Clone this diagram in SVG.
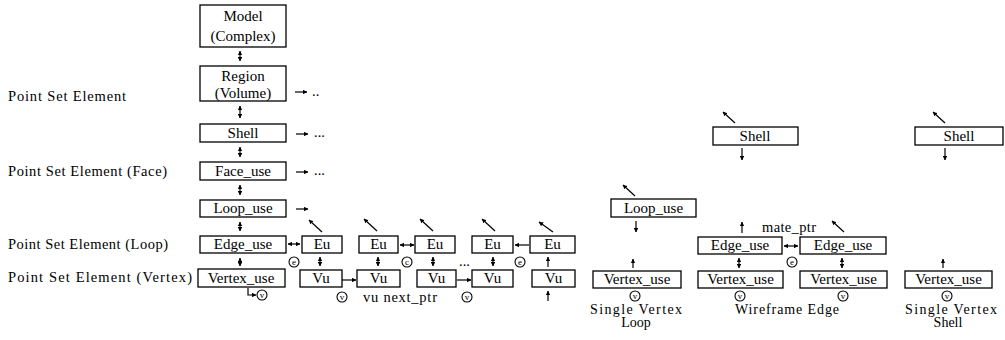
<svg xmlns="http://www.w3.org/2000/svg" width="1005" height="340" viewBox="0 0 1005 340">
<defs>
<marker id="h" viewBox="0 0 6 6" refX="5.5" refY="3" markerWidth="4.5" markerHeight="4.5" markerUnits="userSpaceOnUse" orient="auto-start-reverse"><path d="M0,0 L6,3 L0,6 z" fill="#000"/></marker>
<style>
.b{fill:#fff;stroke:#000;stroke-width:1.3}
.t{font-family:"Liberation Serif","DejaVu Serif",serif;font-size:15px;fill:#000;text-anchor:middle}
.s{font-family:"Liberation Serif","DejaVu Serif",serif;font-size:14px;fill:#000;text-anchor:middle}
.l{font-family:"Liberation Serif","DejaVu Serif",serif;font-size:14.5px;fill:#000}
.c{fill:none;stroke:#000;stroke-width:1.1}
.ct{font-family:"Liberation Serif","DejaVu Serif",serif;font-size:9px;fill:#000;text-anchor:middle}
.a{stroke:#000;stroke-width:1.2;fill:none}
.ae{marker-end:url(#h)}
.ad{marker-start:url(#h);marker-end:url(#h)}
</style>
</defs>
<rect width="1005" height="340" fill="#fff"/>
<g id="labels">
<text class="l" x="8" y="101" textLength="118" lengthAdjust="spacing">Point Set Element</text>
<text class="l" x="8" y="176" textLength="159" lengthAdjust="spacing">Point Set Element (Face)</text>
<text class="l" x="8" y="249" textLength="160" lengthAdjust="spacing">Point Set Element (Loop)</text>
<text class="l" x="8" y="282" textLength="184" lengthAdjust="spacing">Point Set Element (Vertex)</text>
</g>
<g id="model"><rect class="b" x="200" y="5" width="86" height="42"/><text class="t" x="243" y="21">Model</text><text class="t" x="243" y="41">(Complex)</text></g>
<g id="region"><rect class="b" x="200" y="66" width="86" height="35"/><text class="t" x="243" y="81">Region</text><text class="t" x="243" y="98">(Volume)</text></g>
<g id="shell"><rect class="b" x="200" y="124" width="86" height="18"/><text class="t" x="243" y="138">Shell</text></g>
<g id="face_use"><rect class="b" x="200" y="162" width="86" height="18"/><text class="t" x="243" y="176">Face_use</text></g>
<g id="loop_use"><rect class="b" x="200" y="200" width="86" height="17"/><text class="t" x="243" y="213">Loop_use</text></g>
<g id="edge_use"><rect class="b" x="200" y="236" width="86" height="17"/><text class="t" x="243" y="249">Edge_use</text></g>
<g id="vertex_use"><rect class="b" x="198" y="269" width="87" height="18"/><text class="t" x="241" y="283">Vertex_use</text></g>
<g id="eu1"><rect class="b" x="302" y="236" width="40" height="17"/><text class="t" x="322" y="249">Eu</text></g>
<g id="eu2"><rect class="b" x="359" y="236" width="39" height="17"/><text class="t" x="378.5" y="249">Eu</text></g>
<g id="eu3"><rect class="b" x="415" y="236" width="40" height="17"/><text class="t" x="435" y="249">Eu</text></g>
<g id="eu4"><rect class="b" x="472" y="236" width="41" height="17"/><text class="t" x="492.5" y="249">Eu</text></g>
<g id="eu5"><rect class="b" x="530" y="236" width="45" height="17"/><text class="t" x="552.5" y="249">Eu</text></g>
<g id="vu1"><rect class="b" x="300" y="270" width="42" height="17"/><text class="t" x="321" y="283">Vu</text></g>
<g id="vu2"><rect class="b" x="357" y="270" width="43" height="17"/><text class="t" x="378.5" y="283">Vu</text></g>
<g id="vu3"><rect class="b" x="417" y="270" width="39" height="17"/><text class="t" x="436.5" y="283">Vu</text></g>
<g id="vu4"><rect class="b" x="472" y="270" width="41" height="17"/><text class="t" x="492.5" y="283">Vu</text></g>
<g id="vu5"><rect class="b" x="532" y="270" width="43" height="17"/><text class="t" x="553.5" y="283">Vu</text></g>
<g id="svl_loop_use"><rect class="b" x="611" y="199" width="85" height="18"/><text class="t" x="653.5" y="213">Loop_use</text></g>
<g id="svl_vertex_use"><rect class="b" x="593" y="271" width="88" height="17"/><text class="t" x="637" y="284">Vertex_use</text></g>
<g id="we_shell"><rect class="b" x="713" y="127" width="85" height="18"/><text class="t" x="755" y="141">Shell</text></g>
<g id="we_edge_use_l"><rect class="b" x="698" y="237" width="84" height="17"/><text class="t" x="740" y="250">Edge_use</text></g>
<g id="we_vertex_use_l"><rect class="b" x="698" y="271" width="85" height="17"/><text class="t" x="740.5" y="284">Vertex_use</text></g>
<g id="we_edge_use_r"><rect class="b" x="800" y="237" width="86" height="17"/><text class="t" x="843" y="250">Edge_use</text></g>
<g id="we_vertex_use_r"><rect class="b" x="800" y="271" width="87" height="17"/><text class="t" x="843.5" y="284">Vertex_use</text></g>
<g id="svs_shell"><rect class="b" x="915" y="127" width="88" height="18"/><text class="t" x="959" y="141">Shell</text></g>
<g id="svs_vertex_use"><rect class="b" x="905" y="271" width="87" height="17"/><text class="t" x="948.5" y="284">Vertex_use</text></g>
<g id="connectors">
<line class="a ad" x1="240" y1="51" x2="240" y2="61"/>
<line class="a ad" x1="240" y1="106" x2="240" y2="118"/>
<line class="a ad" x1="240" y1="147" x2="240" y2="157"/>
<line class="a ad" x1="240" y1="185" x2="240" y2="195"/>
<line class="a ad" x1="240" y1="222" x2="240" y2="231"/>
<line class="a ad" x1="240" y1="258" x2="240" y2="266"/>
<line class="a ae" x1="295" y1="92" x2="307" y2="92"/>
<line class="a ae" x1="296" y1="134" x2="308" y2="134"/>
<line class="a ae" x1="296" y1="172" x2="308" y2="172"/>
<line class="a ae" x1="296" y1="209" x2="308" y2="209"/>
<line class="a ad" x1="288" y1="244" x2="300" y2="244"/>
<line class="a ad" x1="400" y1="245" x2="414" y2="245"/>
<line class="a ae" x1="529" y1="245" x2="515" y2="245"/>
<line class="a ae" x1="322" y1="232" x2="309" y2="220"/>
<line class="a ae" x1="377" y1="231" x2="364" y2="219"/>
<line class="a ae" x1="433" y1="231" x2="420" y2="219"/>
<line class="a ae" x1="495" y1="231" x2="482" y2="219"/>
<line class="a ae" x1="553" y1="232" x2="539" y2="222"/>
<line class="a ad" x1="320" y1="257" x2="320" y2="266"/>
<line class="a ad" x1="378" y1="257" x2="378" y2="266"/>
<line class="a ad" x1="433" y1="257" x2="433" y2="266"/>
<line class="a ad" x1="493" y1="257" x2="493" y2="266"/>
<line class="a ae" x1="548" y1="267" x2="548" y2="257"/>
<line class="a ae" x1="548" y1="301" x2="548" y2="291"/>
<line class="a ae" x1="342" y1="280" x2="356" y2="280"/>
<line class="a ae" x1="457" y1="280" x2="471" y2="280"/>
<path class="a ae" d="M248,288 L248,295 L256,295"/>
<line class="a ae" x1="735" y1="123" x2="723" y2="112"/>
<line class="a ae" x1="742" y1="148" x2="742" y2="160"/>
<line class="a ae" x1="945" y1="123" x2="933" y2="112"/>
<line class="a ae" x1="945" y1="148" x2="945" y2="160"/>
<line class="a ae" x1="635" y1="196" x2="623" y2="185"/>
<line class="a ae" x1="636" y1="221" x2="636" y2="232"/>
<line class="a ae" x1="633" y1="268" x2="633" y2="259"/>
<line class="a ae" x1="742" y1="233" x2="742" y2="222"/>
<line class="a ad" x1="784" y1="246" x2="798" y2="246"/>
<line class="a ad" x1="739" y1="258" x2="739" y2="268"/>
<line class="a ad" x1="842" y1="258" x2="842" y2="268"/>
<line class="a ae" x1="844" y1="232" x2="832" y2="221"/>
<line class="a ae" x1="943" y1="268" x2="943" y2="259"/>
</g>
<g id="annotations">
<text class="l" x="312" y="96">..</text>
<text class="l" x="314" y="137">...</text>
<text class="l" x="314" y="175">...</text>
<text class="l" x="459" y="266">...</text>
<circle class="c" cx="294" cy="262" r="5"/><text class="ct" x="294" y="265">e</text>
<circle class="c" cx="407" cy="262" r="5"/><text class="ct" x="407" y="265">c</text>
<circle class="c" cx="520" cy="262" r="5"/><text class="ct" x="520" y="265">e</text>
<circle class="c" cx="262" cy="295" r="5"/><text class="ct" x="262" y="298">v</text>
<circle class="c" cx="342" cy="297" r="5"/><text class="ct" x="342" y="300">v</text>
<circle class="c" cx="467" cy="297" r="5"/><text class="ct" x="467" y="300">v</text>
<text class="l" x="363" y="302" textLength="74" lengthAdjust="spacing">vu next_ptr</text>
<circle class="c" cx="635" cy="296" r="5"/><text class="ct" x="635" y="299">v</text>
<circle class="c" cx="740" cy="296" r="5"/><text class="ct" x="740" y="299">v</text>
<circle class="c" cx="843" cy="296" r="5"/><text class="ct" x="843" y="299">v</text>
<circle class="c" cx="947" cy="296" r="5"/><text class="ct" x="947" y="299">v</text>
<circle class="c" cx="792" cy="262" r="5"/><text class="ct" x="792" y="265">e</text>
<text class="l" x="762" y="232" textLength="54" lengthAdjust="spacing">mate_ptr</text>
<text class="s" x="636" y="314" textLength="92" lengthAdjust="spacing">Single Vertex</text>
<text class="s" x="636" y="327">Loop</text>
<text class="s" x="787" y="314" textLength="104" lengthAdjust="spacing">Wireframe Edge</text>
<text class="s" x="951" y="314" textLength="92" lengthAdjust="spacing">Single Vertex</text>
<text class="s" x="948" y="327">Shell</text>
</g>
</svg>
